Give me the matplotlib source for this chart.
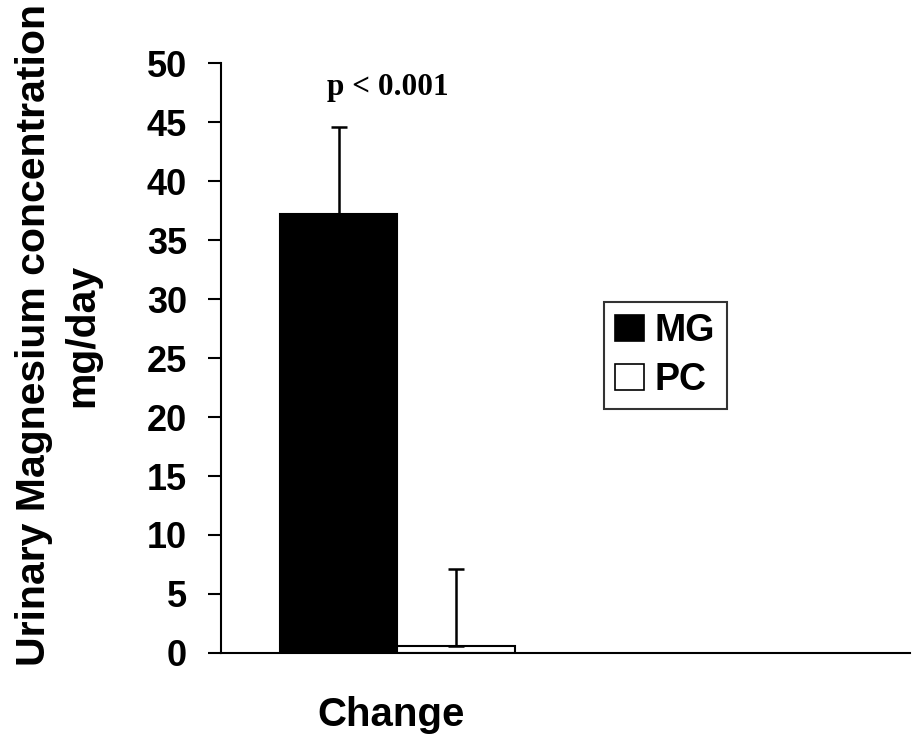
import matplotlib
matplotlib.use("Agg")
from matplotlib import pyplot as plt
from matplotlib.patches import Patch

# data
groups = ["MG", "PC"]
means = [37.2, 0.6]
upper_err = [7.4, 6.5]
category = "Change"
yticks = [0, 5, 10, 15, 20, 25, 30, 35, 40, 45, 50]

plt.rcParams['font.family'] = ['Liberation Sans', 'DejaVu Sans']

fig = plt.figure(figsize=(9.14, 7.45), dpi=100)
ax = fig.add_axes([0.2418, 0.1235, 0.7538, 0.7919])

xpos = [0.98, 1.96]
colors = ["black", "white"]
ax.bar(xpos, means, width=0.98, color=colors, edgecolor="black", linewidth=1.5)
ax.errorbar(xpos, means, yerr=[[0, 0], upper_err], fmt="none", ecolor="black",
            elinewidth=1.8, capsize=5.5, capthick=1.8)

ax.set_xlim(0, 5.74)
ax.set_ylim(0, 50)
ax.set_yticks(yticks)
ax.set_xticks([])
ax.tick_params(axis="y", direction="out", length=9.5, width=1.5, pad=15,
               labelsize=26)
for lab in ax.get_yticklabels():
    lab.set_fontweight("bold")
for s in ["top", "right"]:
    ax.spines[s].set_visible(False)
for s in ["left", "bottom"]:
    ax.spines[s].set_linewidth(1.5)

fig.text(0.064, 0.55, "Urinary Magnesium concentration\nmg/day", rotation=90,
         ha="center", va="center", multialignment="center",
         fontsize=29.5, fontweight="bold", linespacing=1.35)
fig.text(0.428, 0.04, category, ha="center", va="center", fontsize=29,
         fontweight="bold")
fig.text(0.424, 0.882, "p < 0.001", ha="center", va="center", fontsize=22.5,
         fontweight="bold", family=["Liberation Serif", "DejaVu Serif"])

handles = [Patch(facecolor=c, edgecolor="black", linewidth=1.2) for c in colors]
leg = fig.legend(handles, groups, loc="upper left",
                 bbox_to_anchor=(0.661, 0.595), borderaxespad=0,
                 frameon=True, fancybox=False, edgecolor="black",
                 prop={"size": 27, "weight": "bold"},
                 handlelength=0.75, handleheight=0.72, handletextpad=0.3,
                 labelspacing=0.35, borderpad=0.3)
leg.get_frame().set_linewidth(1.5)

fig.savefig("out.png", dpi=100, facecolor="white")
